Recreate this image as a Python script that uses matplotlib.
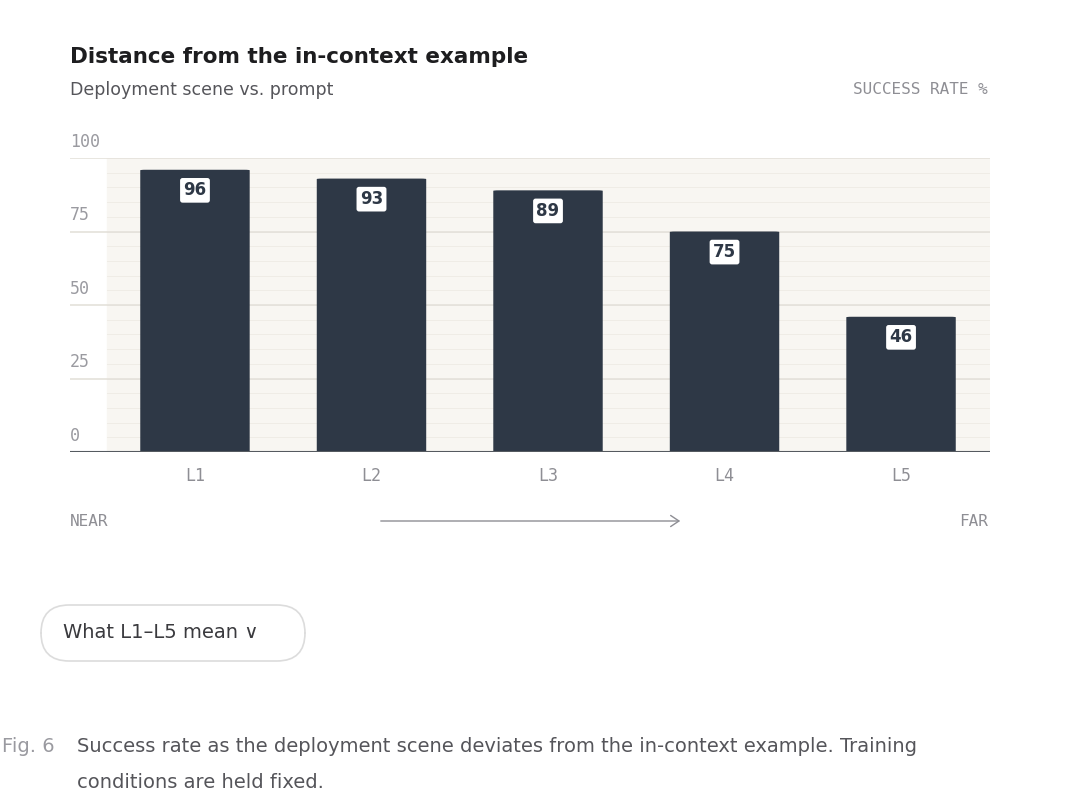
import matplotlib.pyplot as plt
from matplotlib.patches import FancyBboxPatch

levels = ['L1', 'L2', 'L3', 'L4', 'L5']
success_rate = [96, 93, 89, 75, 46]
y_ticks = [0, 25, 50, 75, 100]

bar_color = '#2e3846'
mono = 'DejaVu Sans Mono'

fig = plt.figure(figsize=(10.8, 8.01), dpi=100)
W, H = 1080, 801
ax = fig.add_axes([70 / W, 1 - 452 / H, 920 / W, (452 - 158) / H])
ax.set_xlim(-0.708, 4.504)
ax.set_ylim(0, 100)
ax.axis('off')

# light band and grid
ax.axvspan(-0.5, 4.504, color='#f8f6f2', zorder=0)
for v in range(5, 100, 5):
    ax.axhline(v, color='#efece6', lw=0.7, zorder=1, xmin=(-0.5 + 0.708) / 5.212)
for v in y_ticks[1:]:
    ax.axhline(v, color='#e4e1da', lw=1.2, zorder=1)
    ax.text(-0.708, v + 2.5, str(v), family=mono, fontsize=12, color='#9a9aa0', va='bottom')
ax.text(-0.708, 2.5, '0', family=mono, fontsize=12, color='#9a9aa0', va='bottom')
ax.axhline(0, color='#555a60', lw=1.5, zorder=3)

for i, v in enumerate(success_rate):
    p = FancyBboxPatch((i - 0.31, 0), 0.62, v, boxstyle='round,pad=0,rounding_size=0.03',
                       mutation_aspect=5.2 / 0.9, facecolor=bar_color, edgecolor='none', zorder=2)
    ax.add_patch(p)
    ax.text(i, v - 7, str(v), ha='center', va='center', fontsize=12, fontweight='bold',
            color=bar_color, zorder=4,
            bbox=dict(boxstyle='round,pad=0.2,rounding_size=0.15', fc='white', ec='none'))
    ax.text(i, -8, levels[i], ha='center', va='center', family=mono, fontsize=12, color='#8e8e94')

fig.text(70 / W, 1 - 57 / H, 'Distance from the in-context example', fontsize=15.5,
         fontweight='bold', color='#1d1d1f', va='center')
fig.text(70 / W, 1 - 90 / H, 'Deployment scene vs. prompt', fontsize=12.5, color='#55555a', va='center')
fig.text(988 / W, 1 - 90 / H, 'SUCCESS RATE %', family=mono, fontsize=11.5, color='#8e8e94',
         ha='right', va='center')
fig.text(70 / W, 1 - 521 / H, 'NEAR', family=mono, fontsize=11.5, color='#8e8e94', va='center')
fig.text(988 / W, 1 - 521 / H, 'FAR', family=mono, fontsize=11.5, color='#8e8e94', ha='right', va='center')
fig.add_artist(plt.matplotlib.patches.FancyArrowPatch((378 / W, 1 - 521 / H), (683 / W, 1 - 521 / H),
               transform=fig.transFigure, arrowstyle='->,head_length=6,head_width=4', color='#8e8e94', lw=1))

# button
btn = FancyBboxPatch((41 / W, 1 - 661 / H), 264 / W, 56 / H, boxstyle='round,pad=0,rounding_size=0.026',
                     mutation_aspect=W / H, transform=fig.transFigure, fc='white', ec='#dcdcdc', lw=1.2)
fig.add_artist(btn)
fig.text(63 / W, 1 - 633 / H, 'What L1\u2013L5 mean \u2228', fontsize=14, color='#3a3a3e', va='center')

fig.text(2 / W, 1 - 746 / H, 'Fig. 6', fontsize=14, color='#9a9aa0', va='center')
fig.text(77 / W, 1 - 746 / H, 'Success rate as the deployment scene deviates from the in-context example. Training',
         fontsize=14, color='#55555a', va='center')
fig.text(77 / W, 1 - 782 / H, 'conditions are held fixed.', fontsize=14, color='#55555a', va='center')

fig.savefig('out.png', dpi=100, facecolor='white')
